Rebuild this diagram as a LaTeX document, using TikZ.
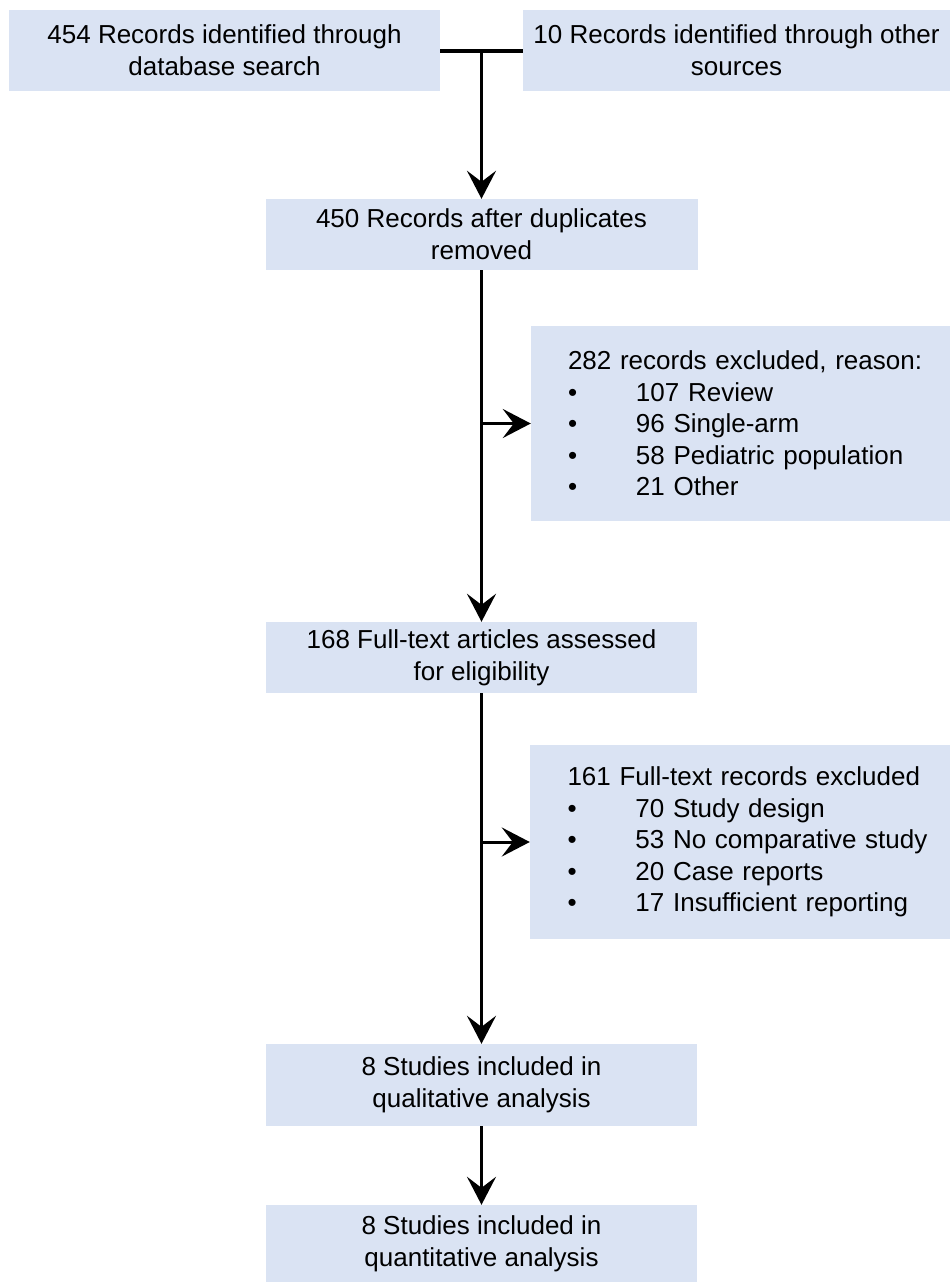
\documentclass[tikz,border=0pt]{standalone}
\usepackage{fontspec}
\setmainfont{Liberation Sans}
\usetikzlibrary{arrows.meta}
\definecolor{boxfill}{RGB}{218,227,243}
\begin{document}
\begin{tikzpicture}[x=1pt,y=-1pt,
  box/.style={fill=boxfill,draw=none,inner sep=0pt,align=center,
    font=\fontsize{26}{32}\selectfont},
  exbox/.style={fill=boxfill,draw=none,inner ysep=0pt,inner xsep=37pt,
    text width=345pt,align=left,minimum width=419pt,minimum height=195pt,
    font=\fontsize{26}{31.5}\selectfont},
  arr/.style={line width=3pt,-{Stealth[length=28pt,width=29pt,inset=11pt]}},
  joinline/.style={line width=4pt}]
\useasboundingbox (0,0) rectangle (950,1282);
\newcommand{\bul}{\makebox[68pt][l]{•}}
\node[box,minimum width=431pt,minimum height=81pt] (b1) at (224.5,50.5)
  {454 Records identified through\\database search};
\node[box,minimum width=427pt,minimum height=81pt] (b2) at (736.5,50.5)
  {10 Records identified through other\\sources};
\node[box,minimum width=432pt,minimum height=71pt] (b3) at (481.5,234.5)
  {450 Records after duplicates\\removed};
\node[exbox] (b4) at (740.5,423.5)
  {\mbox{282 records excluded, reason:}\\
   \bul 107 Review\\
   \bul 96 Single-arm\\
   \bul 58 Pediatric population\\
   \bul 21 Other};
\node[exbox,minimum width=420pt,minimum height=194pt] (b6) at (740,842)
  {\mbox{161 Full-text records excluded}\\
   \bul 70 Study design\\
   \bul \mbox{53 No comparative study}\\
   \bul 20 Case reports\\
   \bul \mbox{17 Insufficient reporting}};
\node[box,minimum width=431pt,minimum height=71pt] (b5) at (481.5,657.5)
  {168 Full-text articles assessed\\for eligibility};
\node[box,minimum width=431pt,minimum height=82pt] (b7) at (481.5,1085)
  {8 Studies included in\\qualitative analysis};
\node[box,minimum width=431pt,minimum height=77pt] (b8) at (481.5,1243.5)
  {8 Studies included in\\quantitative analysis};
\coordinate (j) at (481.5,50.5);
\draw[joinline] (b1.east) -- (b2.west);
\draw[arr] (j) -- (b3.north);
\draw[arr] (b3.south) -- (b5.north);
\draw[arr] (b3.south |- b4.west) -- (b4.west);
\draw[arr] (b5.south) -- (b7.north);
\draw[arr] (b5.south |- b6.west) -- (b6.west);
\draw[arr] (b7.south) -- (b8.north);
\end{tikzpicture}
\end{document}
